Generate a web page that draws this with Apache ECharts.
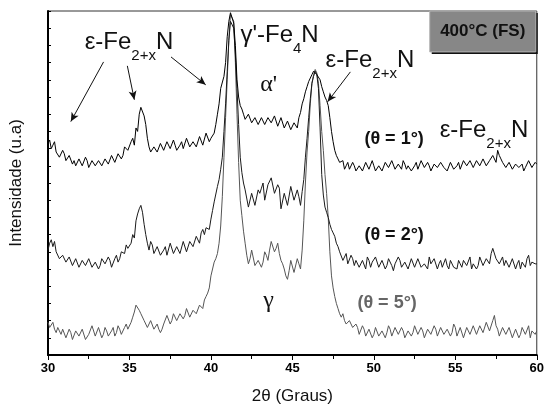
<!DOCTYPE html>
<html>
<head>
<meta charset="utf-8">
<script src="https://cdn.jsdelivr.net/npm/echarts@6/dist/echarts.min.js"></script>
<style>
  html, body { margin: 0; padding: 0; background: #fff; }
  #chart { width: 547px; height: 410px; }
</style>
</head>
<body>
<div id="chart"></div>
<script>
// scan grid: 2θ from 30° to 60°, one reading every 0.1°
const angleStart = 30;
const angleStep = 0.1;

// intensity readings (offset per curve, arbitrary units), one row per degree
const theta1 = [
  12.3, 12.5, 12.0, 12.2, 12.4, 11.8, 11.9, 11.5, 11.6, 11.9,
  11.7, 11.3, 11.2, 11.6, 11.5, 11.1, 11.3, 11.0, 11.0, 11.4,
  11.4, 11.0, 11.1, 11.5, 11.3, 10.9, 11.0, 11.3, 11.2, 11.0,
  11.1, 11.3, 11.4, 11.0, 11.0, 11.4, 11.3, 11.1, 11.2, 11.6,
  11.5, 11.2, 11.3, 11.7, 11.8, 11.4, 11.6, 12.1, 12.2, 11.9,
  12.0, 12.4, 12.6, 12.2, 13.2, 13.0, 14.0, 14.4, 14.3, 13.9,
  13.4, 12.6, 12.1, 11.8, 11.8, 12.1, 12.2, 11.8, 11.9, 12.3,
  12.3, 11.9, 11.8, 12.4, 12.5, 12.0, 12.0, 12.5, 12.2, 11.9,
  11.8, 12.2, 12.4, 12.0, 12.1, 12.6, 12.6, 12.1, 12.0, 12.4,
  12.5, 12.1, 12.2, 12.7, 12.8, 12.2, 12.3, 12.9, 12.9, 12.4,
  12.6, 12.5, 12.9, 13.4, 14.0, 14.6, 15.5, 15.4, 16.2, 17.0,
  18.5, 19.4, 19.9, 19.8, 19.3, 18.0, 16.0, 15.0, 14.5, 14.3,
  14.0, 13.7, 13.6, 14.0, 13.9, 13.5, 13.4, 13.8, 13.8, 13.4,
  13.5, 13.8, 13.9, 13.4, 13.3, 13.8, 13.7, 13.5, 13.6, 13.9,
  13.8, 13.3, 13.4, 13.8, 13.7, 13.2, 13.2, 13.6, 13.5, 13.1,
  13.1, 13.5, 13.4, 13.2, 13.8, 14.1, 14.6, 14.9, 15.3, 15.6,
  15.9, 16.0, 16.3, 16.5, 16.6, 16.3, 16.2, 16.0, 15.6, 15.3,
  15.0, 14.8, 14.5, 13.8, 13.0, 12.4, 11.9, 11.6, 11.4, 11.2,
  11.1, 11.3, 10.8, 11.0, 11.2, 10.8, 10.9, 11.2, 11.0, 10.7,
  10.7, 11.0, 11.1, 10.7, 10.8, 11.2, 11.2, 10.8, 10.9, 11.3,
  11.0, 10.7, 10.6, 11.0, 11.1, 10.7, 10.8, 11.2, 11.3, 10.9,
  10.9, 11.3, 11.2, 10.8, 10.7, 11.1, 11.0, 10.8, 11.3, 11.1,
  10.8, 11.0, 11.1, 10.7, 10.6, 11.0, 11.2, 10.8, 10.9, 11.3,
  11.3, 10.9, 10.8, 11.2, 11.0, 10.7, 10.7, 11.1, 11.2, 10.9,
  10.9, 11.2, 11.3, 10.9, 11.0, 10.7, 10.8, 11.2, 11.1, 10.8,
  10.8, 11.0, 11.2, 10.8, 10.9, 11.3, 11.4, 11.0, 11.0, 11.3,
  11.2, 10.9, 10.9, 11.3, 11.3, 11.0, 11.1, 11.4, 11.4, 11.0,
  11.0, 11.3, 11.3, 11.6, 11.5, 11.2, 11.9, 11.6, 11.4, 11.2,
  11.2, 10.9, 10.9, 11.2, 11.1, 10.8, 10.8, 11.1, 11.2, 10.9,
  10.9, 11.1, 10.7, 10.9, 11.0, 11.3, 11.2, 10.9, 10.9, 11.2,
  11.1
];
const theta2 = [
  6.1, 6.5, 6.7, 6.3, 6.6, 6.0, 6.0, 5.6, 5.5, 5.8,
  5.7, 5.4, 5.3, 5.7, 5.6, 5.2, 5.2, 5.6, 5.5, 5.1,
  5.1, 5.5, 5.6, 5.2, 5.3, 5.6, 5.5, 5.1, 5.0, 5.4,
  5.4, 5.0, 5.2, 5.6, 5.7, 5.3, 5.3, 5.7, 5.5, 5.1,
  5.2, 5.6, 5.8, 5.4, 5.6, 6.0, 6.1, 5.9, 6.4, 6.2,
  6.2, 6.5, 7.0, 6.8, 7.8, 8.2, 8.5, 8.7, 8.3, 7.6,
  7.0, 6.5, 6.1, 6.6, 6.4, 5.9, 5.8, 6.3, 6.2, 5.8,
  5.7, 6.1, 6.3, 5.8, 5.9, 6.5, 6.4, 5.9, 5.8, 6.3,
  6.2, 5.9, 6.0, 6.6, 6.5, 6.0, 6.1, 6.6, 6.7, 6.3,
  6.4, 6.9, 6.8, 6.5, 7.1, 7.3, 7.0, 7.4, 7.5, 7.3,
  7.9, 8.4, 8.9, 9.0, 9.8, 10.2, 10.8, 11.5, 13.0, 14.6,
  16.5, 18.3, 19.4, 19.5, 19.0, 17.5, 15.5, 13.4, 11.5, 10.6,
  10.0, 9.6, 9.5, 8.6, 8.6, 9.4, 9.3, 8.7, 8.8, 9.6,
  9.4, 9.7, 10.0, 9.0, 9.1, 9.9, 9.8, 10.3, 10.2, 9.4,
  9.3, 9.9, 9.7, 8.5, 8.4, 9.4, 9.5, 8.7, 8.8, 9.8,
  9.9, 9.0, 8.9, 9.6, 9.2, 8.7, 9.5, 10.2, 11.5, 12.6,
  13.8, 14.9, 15.8, 16.2, 16.5, 16.3, 15.5, 13.2, 10.5, 9.3,
  8.6, 8.3, 8.0, 7.6, 7.3, 7.1, 6.9, 6.5, 6.3, 6.0,
  5.9, 5.5, 5.6, 5.9, 5.3, 5.2, 5.8, 5.6, 5.2, 5.5,
  5.5, 5.1, 5.0, 5.5, 5.4, 5.0, 5.7, 5.5, 5.1, 5.4,
  5.3, 5.7, 5.6, 5.1, 5.0, 5.5, 5.4, 5.0, 5.2, 5.6,
  5.6, 5.2, 4.9, 5.3, 5.3, 5.7, 5.5, 5.1, 5.0, 5.4,
  5.4, 5.0, 5.1, 5.6, 5.6, 5.1, 5.2, 5.6, 5.5, 5.1,
  5.0, 5.3, 5.4, 5.0, 5.7, 5.3, 5.2, 5.6, 5.5, 5.0,
  5.3, 5.5, 5.1, 5.0, 5.6, 5.2, 5.0, 5.5, 5.4, 5.1,
  5.2, 5.0, 5.5, 5.3, 5.1, 5.5, 5.6, 5.2, 5.3, 5.7,
  5.0, 5.3, 5.4, 5.0, 5.2, 5.7, 5.7, 5.2, 5.3, 5.6,
  5.6, 5.3, 5.9, 6.2, 6.1, 5.6, 5.7, 5.3, 5.4, 5.7,
  5.2, 5.5, 5.6, 5.1, 5.1, 5.6, 5.5, 5.0, 5.3, 5.5,
  5.0, 5.4, 5.4, 5.1, 5.6, 5.8, 5.2, 5.4, 5.5, 5.3,
  5.3
];
const theta5 = [
  1.9, 1.6, 1.7, 1.9, 1.5, 1.3, 1.6, 1.4, 1.2, 1.5,
  1.4, 1.0, 1.1, 1.5, 1.3, 0.9, 0.9, 1.4, 1.5, 1.1,
  1.0, 1.5, 1.4, 0.9, 0.8, 1.2, 1.3, 1.7, 1.6, 1.1,
  1.1, 1.6, 1.5, 1.0, 1.2, 1.6, 1.4, 1.1, 1.0, 1.4,
  1.6, 1.1, 1.3, 1.7, 1.5, 1.2, 1.2, 1.6, 1.8, 1.5,
  1.6, 1.9, 2.2, 2.5, 2.9, 3.0, 2.6, 2.4, 2.3, 2.0,
  2.0, 1.6, 1.6, 2.0, 1.9, 1.5, 1.4, 1.8, 1.5, 1.3,
  1.5, 1.8, 1.9, 2.3, 2.2, 1.8, 2.0, 2.4, 2.4, 2.0,
  2.1, 2.4, 2.5, 2.1, 2.3, 2.7, 2.6, 2.2, 2.2, 2.6,
  2.7, 2.4, 2.5, 2.9, 3.0, 2.7, 3.2, 3.4, 3.6, 3.9,
  4.6, 5.0, 5.4, 5.6, 5.9, 6.5, 7.5, 9.2, 11.5, 13.8,
  16.0, 18.3, 19.8, 19.9, 19.4, 17.0, 14.0, 11.2, 9.0, 8.1,
  7.2, 6.5, 5.8, 5.3, 5.6, 6.1, 6.0, 5.2, 5.1, 5.5,
  5.6, 5.1, 5.4, 6.0, 5.8, 5.5, 6.1, 6.6, 6.5, 6.0,
  6.2, 6.5, 5.9, 5.5, 5.3, 5.0, 4.6, 4.4, 4.9, 5.5,
  5.4, 4.8, 4.9, 5.6, 5.3, 5.0, 6.1, 7.8, 10.0, 11.8,
  13.0, 14.6, 15.8, 16.3, 16.6, 16.4, 15.8, 14.5, 13.0, 11.9,
  10.5, 9.4, 8.0, 6.0, 4.6, 3.9, 3.4, 3.0, 2.7, 2.4,
  2.2, 2.4, 2.0, 1.8, 1.7, 2.0, 1.9, 1.6, 1.5, 1.8,
  1.6, 1.2, 1.3, 1.7, 1.5, 1.1, 1.1, 1.5, 1.4, 1.0,
  1.2, 1.6, 1.6, 1.1, 1.0, 1.4, 1.4, 1.0, 1.3, 1.7,
  1.5, 1.1, 1.1, 1.6, 1.6, 1.2, 1.2, 1.6, 1.4, 1.0,
  1.0, 1.4, 1.5, 1.1, 1.3, 1.7, 1.7, 1.2, 1.2, 1.6,
  1.4, 1.0, 1.1, 1.5, 1.6, 1.2, 1.3, 1.7, 1.5, 1.1,
  1.2, 1.6, 1.7, 1.2, 1.1, 1.5, 1.5, 1.1, 1.3, 1.8,
  1.6, 1.1, 1.2, 1.6, 1.5, 1.0, 1.1, 1.6, 1.7, 1.2,
  1.3, 1.7, 1.6, 1.2, 1.2, 1.7, 1.8, 1.3, 1.4, 1.9,
  1.9, 1.4, 1.3, 2.0, 2.3, 1.7, 1.5, 1.1, 1.2, 1.6,
  1.6, 1.2, 1.3, 1.6, 1.5, 1.0, 1.1, 1.5, 1.4, 1.0,
  1.2, 1.6, 1.6, 1.2, 1.3, 1.7, 1.0, 1.4, 1.5, 1.2,
  1.4
];

// arrows: [from 2θ, from I, to 2θ, to I]
const arrows = [
  [33.41, 17.04, 31.40, 13.57],
  [34.87, 16.81, 35.30, 14.84],
  [37.55, 17.33, 39.68, 15.71],
  [48.56, 16.46, 47.16, 14.72]
];

const SANS = '"Liberation Sans", Arial, sans-serif';
const SERIF = '"Liberation Serif", "Times New Roman", serif';
const MAIN_FONT = '24px ' + SANS;
const SUB_FONT = '15px ' + SANS;

// phase labels with a subscript: [before, subscript, after], top-left anchor in data units
const phaseNotes = [
  { parts: ['ε-Fe', '2+x', 'N'], at: [32.25, 18.86] },
  { parts: ['γ\'-Fe', '4', 'N'], at: [41.81, 19.3] },
  { parts: ['ε-Fe', '2+x', 'N'], at: [47.04, 17.82] },
  { parts: ['ε-Fe', '2+x', 'N'], at: [54.04, 13.76] }
];

// plain text notes
const notes = [
  { text: 'α\'', at: [43.02, 16.4], font: '24px ' + SERIF, color: '#111' },
  { text: 'γ', at: [43.21, 3.85], font: '24px ' + SERIF, color: '#111' },
  { text: '(θ = 1°)', at: [49.42, 13.07], font: 'bold 18px ' + SANS, color: '#111' },
  { text: '(θ = 2°)', at: [49.42, 7.51], font: 'bold 18px ' + SANS, color: '#111' },
  { text: '(θ = 5°)', at: [48.99, 3.57], font: 'bold 18px ' + SANS, color: '#666' }
];

const toPairs = arr => arr.map((v, i) => [+(angleStart + i * angleStep).toFixed(1), v]);

const chart = echarts.init(document.getElementById('chart'));

chart.setOption({
  animation: false,
  grid: { left: 48, right: 6, top: 11, bottom: 54, show: true, borderColor: '#333', borderWidth: 1 },
  xAxis: {
    type: 'value', min: 30, max: 60, interval: 5,
    name: '2θ (Graus)', nameLocation: 'middle', nameGap: 33,
    nameTextStyle: { fontSize: 17, fontFamily: SANS, color: '#111' },
    axisLine: { lineStyle: { color: '#000', width: 2 } },
    axisTick: { inside: false, length: 5, lineStyle: { color: '#000' } },
    minorTick: { show: true, splitNumber: 2, length: 4, lineStyle: { color: '#000' } },
    axisLabel: { fontSize: 13, fontWeight: 'bold', fontFamily: SANS, color: '#000', margin: 7 },
    splitLine: { show: false }
  },
  yAxis: {
    type: 'value', min: 0, max: 20, interval: 1,
    name: 'Intensidade (u.a)', nameLocation: 'middle', nameGap: 23,
    nameTextStyle: { fontSize: 17, fontFamily: SANS, color: '#111' },
    axisLine: { show: true, lineStyle: { color: '#000', width: 2 } },
    axisTick: { show: true, inside: true, length: 3, lineStyle: { color: '#000' } },
    axisLabel: { show: false },
    splitLine: { show: false }
  },
  series: [
    {
      name: 'θ = 5°', type: 'line', data: toPairs(theta5), showSymbol: false,
      lineStyle: { color: '#555', width: 1 }
    },
    {
      name: 'θ = 2°', type: 'line', data: toPairs(theta2), showSymbol: false,
      lineStyle: { color: '#1a1a1a', width: 1 }
    },
    {
      name: 'θ = 1°', type: 'line', data: toPairs(theta1), showSymbol: false,
      lineStyle: { color: '#000', width: 1 },
      markLine: {
        silent: true,
        symbol: ['none', 'arrow'],
        symbolSize: [6, 9],
        label: { show: false },
        lineStyle: { color: '#111', width: 1, type: 'solid' },
        data: arrows.map(a => [{ coord: [a[0], a[1]] }, { coord: [a[2], a[3]] }])
      }
    }
  ]
});

// text width helper for laying out subscripts
const ctx = document.createElement('canvas').getContext('2d');
function textWidth(str, font) {
  ctx.font = font;
  return ctx.measureText(str).width;
}

const graphics = [];

phaseNotes.forEach(n => {
  const p = chart.convertToPixel({ gridIndex: 0 }, n.at);
  const x = p[0], y = p[1];
  const w0 = textWidth(n.parts[0], MAIN_FONT);
  const w1 = textWidth(n.parts[1], SUB_FONT);
  graphics.push(
    { type: 'text', z: 100, style: { text: n.parts[0], x: x, y: y, font: MAIN_FONT, fill: '#111', align: 'left', verticalAlign: 'top' } },
    { type: 'text', z: 100, style: { text: n.parts[1], x: x + w0, y: y + 18, font: SUB_FONT, fill: '#111', align: 'left', verticalAlign: 'top' } },
    { type: 'text', z: 100, style: { text: n.parts[2], x: x + w0 + w1, y: y, font: MAIN_FONT, fill: '#111', align: 'left', verticalAlign: 'top' } }
  );
});

notes.forEach(n => {
  const p = chart.convertToPixel({ gridIndex: 0 }, n.at);
  graphics.push({ type: 'text', z: 100, style: { text: n.text, x: p[0], y: p[1], font: n.font, fill: n.color, align: 'left', verticalAlign: 'top' } });
});

// the temperature box in the top-right corner
const boxTL = chart.convertToPixel({ gridIndex: 0 }, [53.43, 20.0]);
const boxBR = chart.convertToPixel({ gridIndex: 0 }, [59.94, 17.62]);
const bw = boxBR[0] - boxTL[0], bh = boxBR[1] - boxTL[1];
graphics.push(
  { type: 'rect', z: 100, shape: { x: boxTL[0] + 2, y: boxTL[1] + 2, width: bw, height: bh }, style: { fill: '#111' } },
  { type: 'rect', z: 101, shape: { x: boxTL[0], y: boxTL[1], width: bw, height: bh }, style: { fill: '#878787', stroke: '#b5b5b5', lineWidth: 1 } },
  { type: 'text', z: 102, style: { text: '400°C (FS)', x: boxTL[0] + bw / 2, y: boxTL[1] + bh / 2, align: 'center', verticalAlign: 'middle', font: 'bold 17px ' + SANS, fill: '#111' } }
);

chart.setOption({ graphic: graphics });
</script>
</body>
</html>
